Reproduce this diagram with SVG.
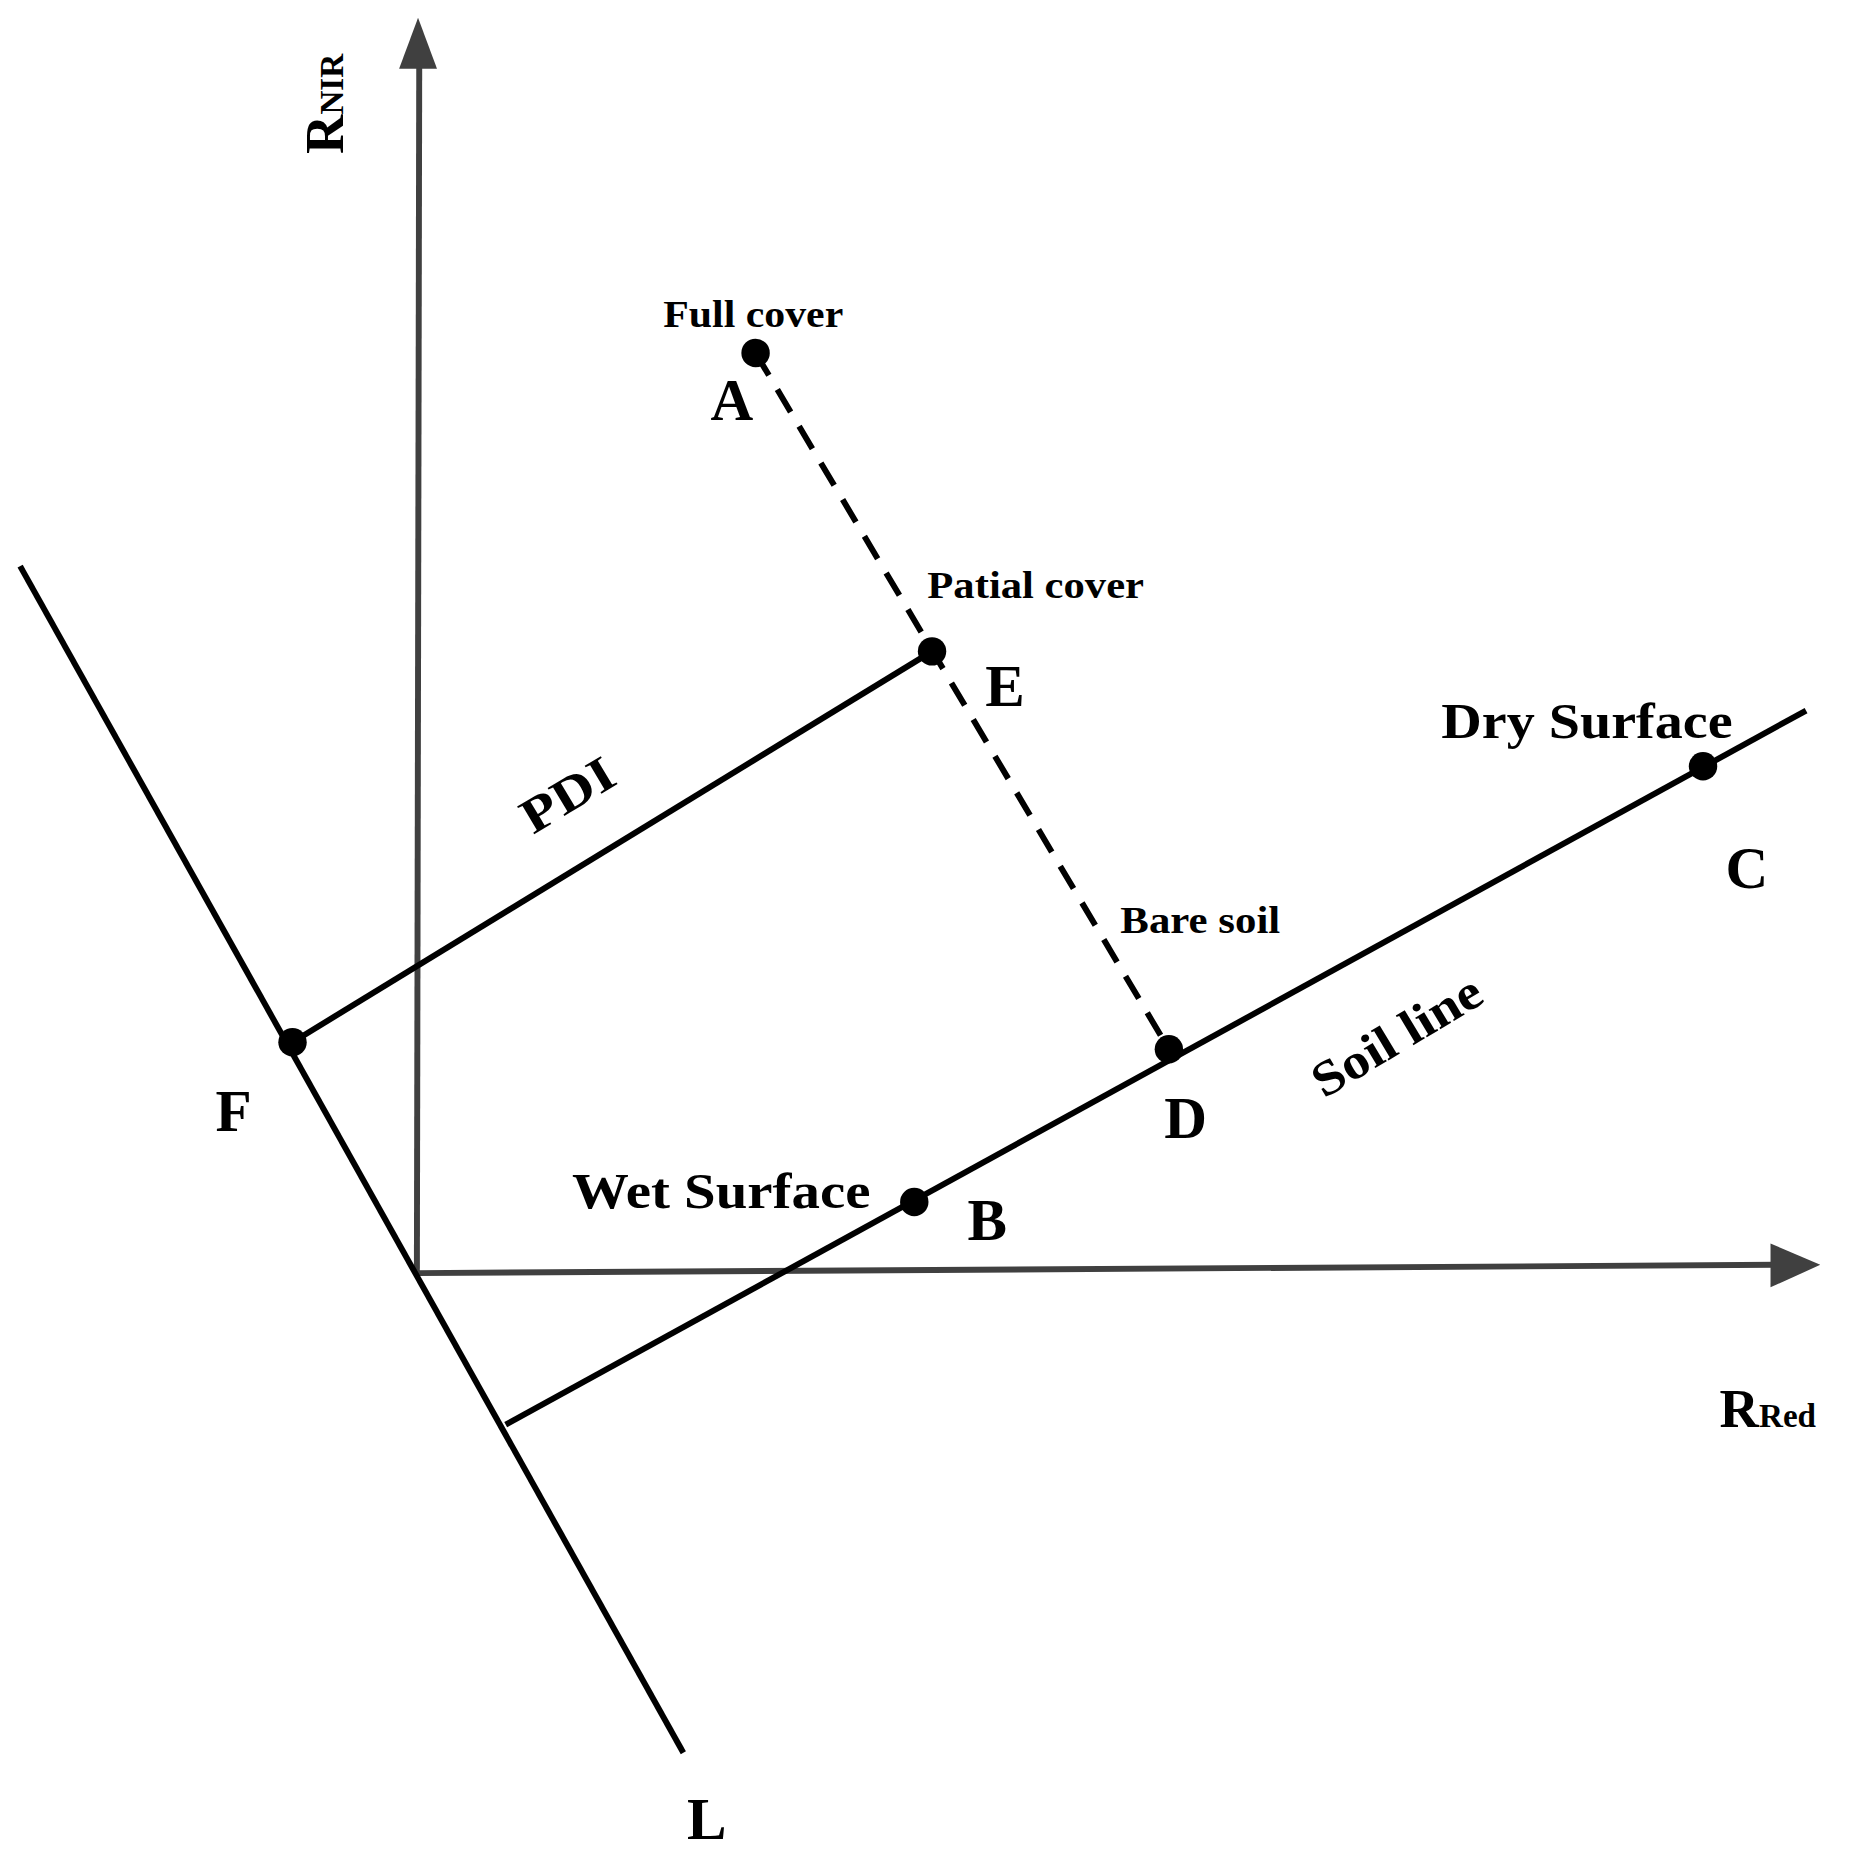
<svg xmlns="http://www.w3.org/2000/svg" width="1858" height="1855" viewBox="0 0 1858 1855">
<style>
text{font-family:"Liberation Serif","Times New Roman",serif;font-weight:bold;fill:#000}
.big{font-size:50px}.mid{font-size:42px}.sm{font-size:32px}
.ln{stroke:#000;stroke-width:5;fill:none}
.ax{stroke:#404040;stroke-width:5;fill:none}
.dot{fill:#000}
</style>
<rect width="1858" height="1855" fill="#fff"/>
<g transform="scale(1.1843)">
<g id="connectors">
<line class="ax" x1="352" y1="1075" x2="354" y2="50"/>
<polygon points="353,15 337,58 369,58" fill="#404040"/>
<line class="ax" x1="352" y1="1075" x2="1500" y2="1068"/>
<polygon points="1537,1068 1495,1050 1495,1087" fill="#404040"/>
<line class="ln" x1="17" y1="478" x2="577" y2="1480"/>
<line class="ln" x1="427" y1="1203" x2="1525" y2="600"/>
<line class="ln" x1="247" y1="880" x2="787" y2="550"/>
<line class="ln" x1="638" y1="298" x2="987" y2="886" stroke-dasharray="22,14"/>
</g>
<g id="nodeA"><circle class="dot" cx="638" cy="298" r="12"/><text class="sm" x="560" y="276" textLength="152" lengthAdjust="spacingAndGlyphs">Full cover</text><text class="big" x="600" y="355">A</text></g>
<g id="nodeE"><circle class="dot" cx="787" cy="550" r="12"/><text class="sm" x="783" y="505" textLength="183" lengthAdjust="spacingAndGlyphs">Patial cover</text><text class="big" x="832" y="596">E</text></g>
<g id="nodeC"><circle class="dot" cx="1438" cy="647" r="12"/><text class="mid" x="1217" y="623" textLength="246" lengthAdjust="spacingAndGlyphs">Dry Surface</text><text class="big" x="1457" y="750">C</text></g>
<g id="nodeD"><circle class="dot" cx="987" cy="886" r="12"/><text class="sm" x="946" y="788" textLength="135" lengthAdjust="spacingAndGlyphs">Bare soil</text><text class="big" x="983" y="961">D</text></g>
<g id="nodeB"><circle class="dot" cx="772" cy="1015" r="12"/><text class="mid" x="483" y="1020" textLength="252" lengthAdjust="spacingAndGlyphs">Wet Surface</text><text class="big" x="817" y="1047">B</text></g>
<g id="nodeF"><circle class="dot" cx="247" cy="880" r="12"/><text class="big" x="182" y="955">F</text></g>
<g id="labels">
<text class="mid" transform="translate(450,705) rotate(-31)" textLength="85" lengthAdjust="spacingAndGlyphs">PDI</text>
<text class="mid" transform="translate(1118,928) rotate(-31)" textLength="160" lengthAdjust="spacingAndGlyphs">Soil line</text>
<text class="big" x="580" y="1553">L</text>
<text transform="translate(290,130) rotate(-90)"><tspan style="font-size:46px">R</tspan><tspan style="font-size:28px">NIR</tspan></text>
<text x="1452" y="1205"><tspan style="font-size:46px">R</tspan><tspan style="font-size:28px">Red</tspan></text>
</g>
</g>
</svg>
